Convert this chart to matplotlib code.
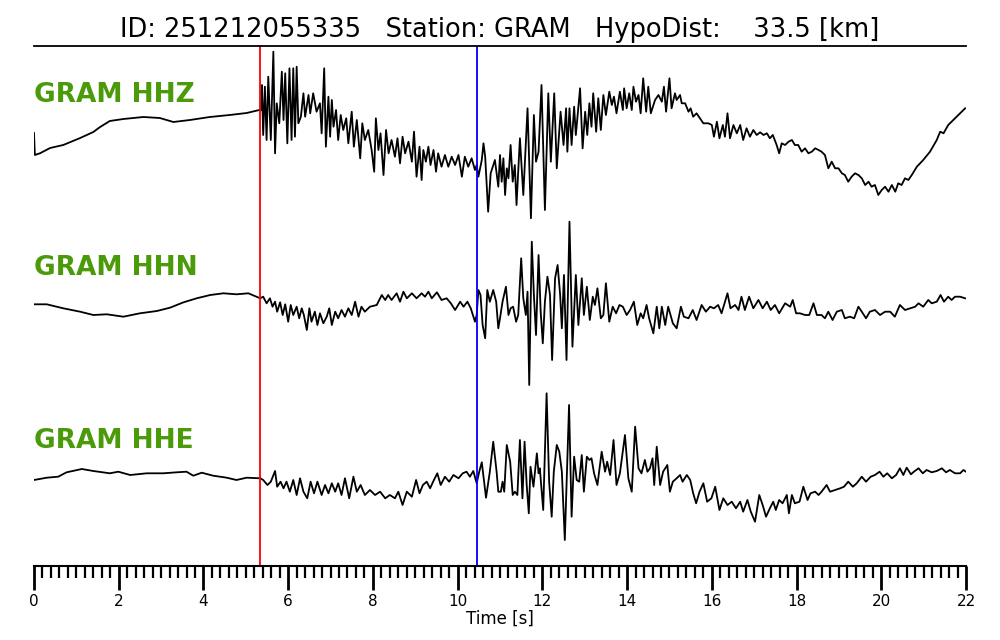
import numpy as np
import matplotlib.pyplot as plt
from matplotlib.ticker import MultipleLocator

event_id = '251212055335'
station = 'GRAM'
hypo_dist = 33.5
channels = ['HHZ', 'HHN', 'HHE']
p_pick = 5.34   # red
s_pick = 10.46  # blue

## ==========================================
## traces (time [s], amp)
## ==========================================
hhz_t = [0.0, 0.02, 0.14, 0.38, 0.69, 1.09, 1.40, 1.56, 1.79, 2.11, 2.58, 2.97, 3.29, 3.68, 4.15, 4.62, 5.02, 5.32,
         5.36, 5.38, 5.41, 5.45, 5.49, 5.53, 5.59, 5.65, 5.69, 5.73, 5.79, 5.85, 5.89, 5.93, 5.98, 6.03, 6.08, 6.12,
         6.16, 6.20, 6.24, 6.30, 6.36, 6.40, 6.48, 6.52, 6.59, 6.67, 6.75, 6.79, 6.85, 6.89, 6.95, 6.99, 7.03, 7.07,
         7.13, 7.18, 7.24, 7.30, 7.37, 7.42, 7.50, 7.55, 7.62, 7.70, 7.75, 7.81, 7.89, 7.97, 8.03, 8.07, 8.13, 8.18,
         8.25, 8.31, 8.37, 8.44, 8.52, 8.58, 8.64, 8.70, 8.76, 8.84, 8.92, 8.97, 9.03, 9.10, 9.15, 9.19, 9.25, 9.31,
         9.36, 9.43, 9.49, 9.54, 9.62, 9.70, 9.78, 9.86, 9.94, 10.02, 10.10, 10.17, 10.25, 10.33, 10.41, 10.45,
         10.49, 10.57, 10.61, 10.65, 10.72, 10.78, 10.88, 10.96,
         11.00, 11.04, 11.08, 11.12, 11.16, 11.20, 11.25, 11.30, 11.35, 11.39, 11.47, 11.55, 11.65, 11.73, 11.80,
         11.85, 11.91, 11.98, 12.06, 12.14, 12.20, 12.28, 12.34, 12.43, 12.50, 12.56, 12.59, 12.64, 12.69, 12.75,
         12.79, 12.89, 12.95, 13.01, 13.06, 13.11, 13.16, 13.20, 13.27, 13.32, 13.38, 13.44, 13.50, 13.58, 13.64,
         13.69, 13.75, 13.83, 13.90, 13.93, 13.99, 14.05, 14.11, 14.15, 14.21, 14.27, 14.32, 14.38, 14.45, 14.50,
         14.56, 14.66, 14.74, 14.82, 14.87, 14.92, 15.00, 15.05, 15.13, 15.17, 15.25, 15.29, 15.37, 15.45, 15.50,
         15.56, 15.64, 15.72, 15.80, 15.92, 16.00, 16.05, 16.12, 16.18, 16.26, 16.31, 16.37, 16.43, 16.51, 16.59,
         16.67, 16.74, 16.82, 16.90, 16.98, 17.06, 17.14, 17.22, 17.30, 17.37, 17.44, 17.53, 17.59, 17.65, 17.73,
         17.81, 17.89, 17.96, 18.04, 18.12, 18.20, 18.28, 18.36, 18.44, 18.52, 18.59, 18.67, 18.75, 18.83, 18.91,
         18.99, 19.07, 19.14, 19.22, 19.30, 19.38, 19.46, 19.54, 19.62, 19.70, 19.77, 19.85, 19.93, 20.01, 20.09,
         20.17, 20.25, 20.33, 20.40, 20.48, 20.56, 20.64, 20.72, 20.84, 20.99, 21.15, 21.31, 21.39, 21.47, 21.58,
         21.70, 21.82, 21.90, 21.98]
hhz_amp = [2, -20, -18.3, -13, -10, -3, 3, 8, 14, 16, 18, 17, 13, 15, 18, 20, 22, 25,
           25, 50, 0, 48.3, -5, 58.3, -5, 83.3, -18.3, 31.7, 11.7, 63.3, 15, 61.7, -8.3, 66.7, -5, 66.7,
           -1.7, 68.3, 11.7, 18.3, 41.7, 18.3, 40, 21.7, 41.7, 23.3, 31.7, 1.7, 66.7, -11.7, 38.3, -1.7, 35, 8.3,
           25, -5, 20, 5, 16.7, -8.3, 23.3, -11.7, 15, -23.3, 11.7, -5, 5, -15, -36.7, 16.7, -15, 1.7,
           -40, 5, -18.3, -5, -21.7, -3.3, -28.3, -1.7, -18.3, -6.7, -26.7, 3.3, -41.7, -11.7, -45, -15, -26.7, -11.7,
           -30, -15, -36.7, -18.3, -31.7, -20, -31.7, -21.7, -30, -20, -41.7, -21.7, -31.7, -23.3, -35, -30,
           -41.7, -25, -8.3, -21.7, -76.7, -38.3, -25, -51.7,
           -20, -46.7, -23.3, -60, -33.3, -43.3, -10, -46.7, -30, -70, -3.3, -60, 26.7, -83.3, 20,
           -26.7, -16.7, 50, -75, 41.7, -26.7, 41.7, -33.3, 23.3, -10, 26.7, -16.7, 26.7, -10, 28.3,
           0, 46.7, -13.3, 23.3, 0, 31.7, 8.3, 41.7, 3.3, 36.7, 5, 40, 20, 43.3, 30,
           38.3, 21.7, 43.3, 25, 46.7, 26.7, 41.7, 25, 48.3, 33.3, 40, 21.7, 56.7, 23.3, 48.3,
           21.7, 35, 40, 33.3, 48.3, 23.3, 56.7, 26.7, 41.7, 35, 40, 31.7, 31.7, 23.3, 26.7,
           18.3, 21.7, 16.7, 11.7, 11.7, 10, -1.7, 13.3, -3.3, 10, -1.7, 21.7, -3.3, 10, 1.7,
           10, -5, 6.7, -1.7, 5, 0, 2.7, 0, 1.7, -3.3, 0, -10, -18.3, -8.3, -10,
           -6.7, -5, -10, -10, -16.7, -13.3, -18.3, -16.7, -13.3, -15, -16.7, -20, -33.3, -26.7, -33.3,
           -33.3, -38.3, -40, -46.7, -41.7, -38.3, -40, -43.3, -50, -46.7, -51.7, -50, -60, -55, -51.7,
           -56.7, -50, -56.7, -48.3, -50, -43.3, -45, -40, -31.7, -25, -16.7, -5, 3.3, 1.7, 10,
           15, 20, 23.3, 26.7]

hhn_t = [0.0, 0.30, 0.69, 1.09, 1.40, 1.72, 2.11, 2.50, 2.90, 3.21, 3.53, 3.84, 4.16, 4.47, 4.78, 5.06, 5.34,
         5.41, 5.49, 5.57, 5.63, 5.69, 5.74, 5.81, 5.87, 5.93, 6.00, 6.06, 6.12, 6.20, 6.26, 6.32, 6.37, 6.44,
         6.50, 6.55, 6.63, 6.69, 6.75, 6.83, 6.91, 6.97, 7.03, 7.11, 7.18, 7.26, 7.34, 7.42, 7.50, 7.58, 7.66,
         7.73, 7.81, 7.93, 8.09, 8.21, 8.29, 8.36, 8.44, 8.56, 8.64, 8.72, 8.80, 8.92, 9.03, 9.15, 9.23, 9.31,
         9.39, 9.51, 9.62, 9.74, 9.84, 9.94, 10.06, 10.14, 10.23, 10.31, 10.41, 10.45, 10.49, 10.54, 10.59,
         10.65, 10.70, 10.76, 10.84, 10.91, 10.96, 11.00, 11.06, 11.14, 11.20, 11.25, 11.31, 11.38, 11.43,
         11.50, 11.55, 11.61, 11.65, 11.69, 11.75, 11.80, 11.85, 11.91, 11.96, 12.01, 12.06, 12.12, 12.18,
         12.23, 12.30, 12.36, 12.42, 12.46, 12.51, 12.57, 12.64, 12.71, 12.79, 12.85, 12.93, 12.98, 13.05,
         13.12, 13.19, 13.24, 13.30, 13.38, 13.44, 13.50, 13.58, 13.66, 13.74, 13.82, 13.90, 13.99, 14.07,
         14.16, 14.24, 14.32, 14.38, 14.46, 14.52, 14.62, 14.70, 14.76, 14.82, 14.90, 14.97, 15.08, 15.17,
         15.27, 15.34, 15.45, 15.55, 15.64, 15.76, 15.86, 15.96, 16.05, 16.15, 16.23, 16.37, 16.44, 16.55,
         16.63, 16.70, 16.78, 16.88, 16.98, 17.10, 17.20, 17.30, 17.39, 17.49, 17.59, 17.73, 17.85, 17.91,
         17.99, 18.08, 18.20, 18.30, 18.40, 18.48, 18.59, 18.67, 18.75, 18.85, 18.95, 19.07, 19.14, 19.26,
         19.36, 19.46, 19.54, 19.64, 19.73, 19.85, 19.97, 20.09, 20.21, 20.32, 20.44, 20.56, 20.68, 20.80,
         20.88, 20.99, 21.11, 21.19, 21.31, 21.40, 21.48, 21.58, 21.66, 21.74, 21.86, 21.98]
hhn_amp = [-4.3, -4.3, -8.3, -11.7, -15, -14.3, -16.7, -13.3, -11, -7.7, -2.3, 1.7, 5, 6.7, 5.7, 6.7, 1.7,
           3.3, -3.3, 1.7, -6.7, -1.7, -11.7, -2.3, -15, -4.3, -21.7, -5, -15, -6.7, -18.3, -8.3, -15, -30,
           -8.3, -21.7, -11.7, -25, -13.3, -23.3, -16.7, -8.3, -25, -11.7, -18.3, -10, -16.7, -8.3, -15, -1.7, -16.7,
           -6.7, -11.7, -6.7, -5, 5, 0, 5, 0, 6.7, -1.7, 8.3, 1.7, 6.7, 1.7, 6.7, 3.3, 8.3,
           1.7, 7.7, 0, 1.7, -3.3, -10, -1.7, -6.7, -1.7, -8.3, -21.7, -15, 10, 5, -25,
           -38.3, 10, -1.7, 10, -1.7, -28.3, -18.3, -1.7, 13.3, -15, -8.3, -6.7, -21.7, -15,
           41.7, 1.7, -15, 8.3, -85, 58.3, 5, -35, 45, -11.7, -43.3, -1.7, 23.3, 5,
           -60, 21.7, 35, 5, -28.3, 25, -60, 78.3, -46.7, 25, -25, 21.7, -15, 13.3,
           -20, 3.3, -5, 11.7, -18.3, -15, 16.7, -21.7, -6.7, -13.3, -5, -6.7, -15, -10,
           -1.7, -25, -13.3, -18.3, -5, -18.3, -33.3, -6.7, -28.3, -6.7, -25, -6.7, -23.3, -28.3,
           -6.7, -16.7, -18.3, -10, -20, -5, -11.7, -6.7, -8.3, -5, -13.3, 6.7, -8.3, -5,
           -10, 3.3, -10, 3.3, -8.3, 0, -8.3, -1.7, -10, -5, -13.3, -3.3, -6.7, 0,
           -13.3, -13.3, -15, -15, -3.3, -15, -15, -18.3, -11.7, -20, -11.7, -10, -18.3, -16.7,
           -18.3, -6.7, -11.7, -18.3, -11.7, -10, -15, -11.7, -11.7, -16.7, -5, -10, -8.3, -6.7,
           -3.3, -6.7, 0, -3.3, -1.7, 5, -1.7, 3.3, 0, 3.3, 3.3, 1.7]

hhe_t = [0.0, 0.30, 0.57, 0.77, 1.13, 1.40, 1.79, 1.99, 2.27, 2.66, 3.05, 3.37, 3.60, 3.76, 3.96, 4.23, 4.55,
         4.78, 5.02, 5.34, 5.41, 5.51, 5.59, 5.69, 5.74, 5.82, 5.89, 5.96, 6.04, 6.12, 6.20, 6.28, 6.36, 6.45,
         6.53, 6.61, 6.69, 6.79, 6.87, 6.95, 7.03, 7.11, 7.18, 7.26, 7.34, 7.44, 7.54, 7.62, 7.71, 7.81, 7.93,
         8.05, 8.17, 8.29, 8.40, 8.52, 8.60, 8.70, 8.80, 8.92, 9.02, 9.10, 9.18, 9.27, 9.35, 9.44, 9.52, 9.60,
         9.70, 9.80, 9.90, 10.02, 10.12, 10.21, 10.29, 10.37, 10.45, 10.51, 10.57, 10.67, 10.76, 10.84, 10.92,
         10.96, 11.02, 11.06, 11.10, 11.16, 11.24, 11.30, 11.35, 11.41, 11.47, 11.53, 11.58, 11.63, 11.68,
         11.72, 11.79, 11.87, 11.91, 11.94, 12.02, 12.10, 12.16, 12.22, 12.27, 12.34, 12.40, 12.46, 12.53,
         12.63, 12.69, 12.75, 12.81, 12.87, 12.93, 12.98, 13.05, 13.11, 13.16, 13.22, 13.30, 13.40, 13.48,
         13.53, 13.60, 13.68, 13.75, 13.83, 13.95, 14.03, 14.11, 14.19, 14.27, 14.34, 14.42, 14.48, 14.54,
         14.60, 14.64, 14.70, 14.78, 14.85, 14.95, 15.01, 15.08, 15.17, 15.25, 15.31, 15.41, 15.49, 15.56,
         15.63, 15.71, 15.80, 15.89, 15.99, 16.08, 16.18, 16.27, 16.37, 16.47, 16.57, 16.67, 16.74, 16.84,
         16.92, 17.02, 17.12, 17.20, 17.28, 17.37, 17.45, 17.51, 17.59, 17.67, 17.77, 17.82, 17.89, 17.96,
         18.07, 18.16, 18.26, 18.33, 18.44, 18.52, 18.59, 18.71, 18.79, 18.91, 19.03, 19.12, 19.22, 19.33,
         19.42, 19.54, 19.64, 19.75, 19.85, 19.96, 20.05, 20.14, 20.25, 20.35, 20.44, 20.52, 20.60, 20.70,
         20.77, 20.88, 20.98, 21.07, 21.19, 21.31, 21.43, 21.53, 21.62, 21.74, 21.86, 21.94, 22.0]
hhe_amp = [-5, -2.7, -1.7, 2.7, 6, 4, 1.7, 3.3, 0, 1.7, 1.7, 2.7, 3.3, -0.7, 2.3, -0.7, -2.7,
           -5, -2.7, -3.3, -5, -10, -6.7, 4, -11.7, -6.7, -13.3, -6.7, -16.7, -5, -20, -3.3, -16.7, -23.3,
           -6.7, -18.3, -6.7, -20, -10, -18.3, -8.3, -16.7, -8.3, -20, -3.3, -23.3, -1.7, -16.7, -10, -20, -15,
           -20, -16.7, -23.3, -20, -23.3, -16.7, -30, -16.7, -21.7, -5, -18.3, -10, -6.7, -13.3, -5, 1.7, -10,
           -1.7, -6.7, 0, -3.3, 1.7, 3.3, -1.7, 4, -8.3, 3.3, 12.7, -22.7, 3.3, 33.3, 3.3,
           -16.7, -16.7, -6.7, -16.7, 30, 13.3, -20, -16.7, -20, 35, -23.3, 33.3, -10, -38.3,
           8.3, -11.7, 21.7, 1.7, 6.7, -35, 81.7, -6.7, -41.7, 3.3, 30, 23.3, 3.3, -65,
           70, -41.7, 18.3, -5, -6.7, 20, -16.7, 18.3, 15, 16.7, 1.7, -10, 23.3, 3.3,
           13.3, 0, 35, -10, 1.7, 40, -3.3, -16.7, 48.3, 6.7, 1.7, 15, 3.3, 6.7,
           16.7, -10, 28.3, -10, 3.3, 10, -16.7, -6.7, -3.3, 0, -6.7, 0, -5, -18.3,
           -28.3, -16.7, -8.3, -26.7, -23.3, -11.7, -35, -23.3, -30, -26.7, -33.3, -26.7, -36.7, -25,
           -36.7, -46.7, -20, -30, -41.7, -33.3, -26.7, -35, -25, -28.3, -20, -38.3, -20, -28.3,
           -26.7, -11.7, -25, -18.3, -16.7, -20, -16.7, -10, -16.7, -15, -13.3, -11.7, -6.7, -11.7,
           -8.3, -1.7, -6.7, -1.7, 0, 3.3, -1.7, 1.7, -3.3, 0, 6.7, 0, 7.3, 0.7,
           3.3, 6.7, 1.7, 5, 2.7, 4, 6.7, 2.7, 5, 1.7, 1.7, 5, 3.3]

traces = [(hhz_t, hhz_amp), (hhn_t, hhn_amp), (hhe_t, hhe_amp)]
offsets = [431, 266, 91]
label_y = [464, 291, 118]

fig = plt.figure(figsize=(10, 6.4), dpi=100)
ax = fig.add_axes([0.034, 74 / 640, 0.932, 520 / 640])

for (t, a), off, ly, ch in zip(traces, offsets, label_y, channels):
    ax.plot(t, np.array(a) + off, color='k', lw=1.3)
    ax.text(0, ly, station + ' ' + ch, color='#4a9a0a', fontsize=19,
            fontweight='bold', ha='left', va='baseline')

ax.axvline(p_pick, color='red', lw=1.3)
ax.axvline(s_pick, color='blue', lw=1.3)

ax.set_xlim(0, 22)
ax.set_ylim(0, 520)
ax.spines['left'].set_visible(False)
ax.spines['right'].set_visible(False)
ax.spines['top'].set_linewidth(1.3)
ax.spines['bottom'].set_linewidth(1.5)
ax.set_yticks([])
ax.set_xticks(np.arange(0, 23, 2))
ax.xaxis.set_minor_locator(MultipleLocator(0.2))
ax.tick_params(axis='x', which='major', length=17, width=2, direction='out', labelsize=11, pad=3)
ax.tick_params(axis='x', which='minor', length=8.6, width=1.6, direction='out')
ax.set_xlabel('Time [s]', fontsize=12, labelpad=1)

fig.text(0.5, (640 - 37) / 640,
         'ID: %s   Station: %s   HypoDist:    %.1f [km]' % (event_id, station, hypo_dist),
         ha='center', va='baseline', fontsize=18.5)

fig.savefig('out.png', dpi=100)
